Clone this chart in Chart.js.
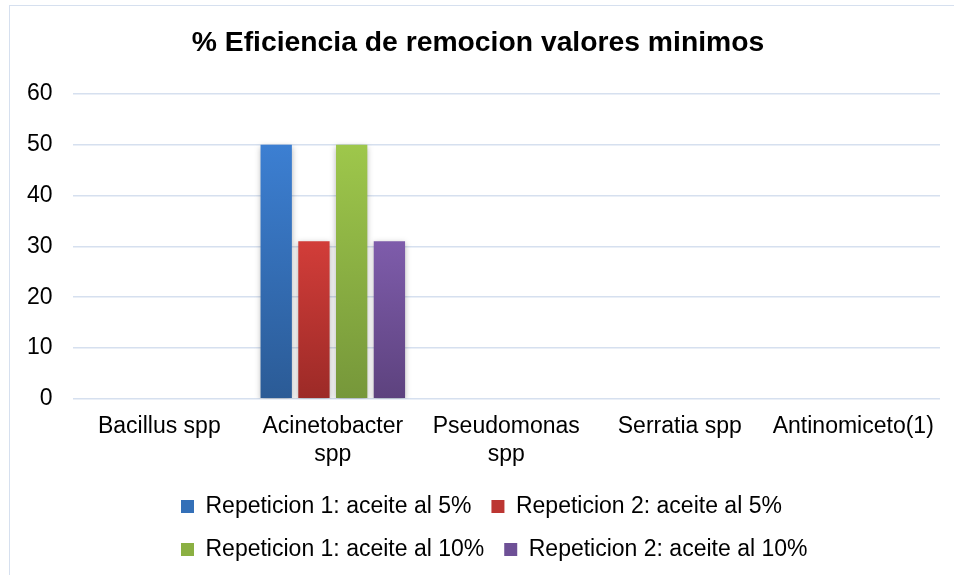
<!DOCTYPE html>
<html>
<head>
<meta charset="utf-8">
<script src="https://cdn.jsdelivr.net/npm/chart.js@4/dist/chart.umd.min.js"></script>
<style>
  html, body { margin: 0; padding: 0; background: #fff; overflow: hidden; }
  #wrap { position: relative; width: 954px; height: 575px; }
  #frame { position: absolute; left: 9px; top: 5px; width: 1000px; height: 700px;
           border-left: 1.5px solid #D6E0EF; border-top: 1.5px solid #D6E0EF; box-sizing: border-box; }
  canvas { position: absolute; left: 0; top: 0; }
</style>
</head>
<body>
<div id="wrap">
  <div id="frame"></div>
  <canvas id="c" width="954" height="575"></canvas>
</div>
<script>
// ---- data ----
const categories = ['Bacillus spp', ['Acinetobacter', 'spp'], ['Pseudomonas', 'spp'], 'Serratia spp', 'Antinomiceto(1)'];
const seriesNames = [
  'Repeticion 1: aceite al 5%',
  'Repeticion 2: aceite al 5%',
  'Repeticion 1: aceite al 10%',
  'Repeticion 2: aceite al 10%'
];
const rep1_5  = [0, 50, 0, 0, 0];
const rep2_5  = [0, 31, 0, 0, 0];
const rep1_10 = [0, 50, 0, 0, 0];
const rep2_10 = [0, 31, 0, 0, 0];
const yTicks = [0, 10, 20, 30, 40, 50, 60];
const chartTitle = '% Eficiencia de remocion valores minimos';

// ---- styles ----
const palette = [
  { top: '#3C7FD2', mid: '#3470B8', bot: '#2B5B96' },
  { top: '#D23D39', mid: '#BC3632', bot: '#9C2A27' },
  { top: '#9EC74B', mid: '#8BB042', bot: '#76973A' },
  { top: '#7E5CAB', mid: '#6E5096', bot: '#5D427E' }
];
const FONT = '"Liberation Sans", Arial, sans-serif';

function barFill(ctx) {
  const c = palette[ctx.datasetIndex];
  if (ctx.type !== 'data') return c.mid;
  const chart = ctx.chart;
  const ys = chart.scales && chart.scales.y;
  if (!ys || !chart.chartArea) return c.mid;
  const v = ctx.parsed ? ctx.parsed.y : ctx.raw;
  const yTop = ys.getPixelForValue(v);
  const yBot = ys.getPixelForValue(0);
  if (!isFinite(yTop) || !isFinite(yBot) || Math.abs(yBot - yTop) < 1) return c.mid;
  const g = chart.ctx.createLinearGradient(0, yTop, 0, yBot);
  g.addColorStop(0, c.top);
  g.addColorStop(1, c.bot);
  return g;
}

const shadowPlugin = {
  id: 'barShadow',
  beforeDatasetsDraw(chart) {
    const ctx = chart.ctx;
    ctx.save();
    ctx.shadowColor = 'rgba(0,0,0,0.3)';
    ctx.shadowBlur = 6;
    ctx.shadowOffsetX = 0;
    ctx.shadowOffsetY = 2;
  },
  afterDatasetsDraw(chart) {
    chart.ctx.restore();
  }
};

const boxPlace = {
  id: 'boxPlace',
  afterLayout(chart) {
    const lg = chart.legend;
    if (lg) {
      const w = lg.right - lg.left;
      lg.left = 161;
      lg.right = lg.left + w;
    }
    const tt = chart.titleBlock;
    if (tt) {
      tt.left += 4.5;
      tt.right += 4.5;
    }
  }
};

const seriesData = [rep1_5, rep2_5, rep1_10, rep2_10];

new Chart(document.getElementById('c'), {
  type: 'bar',
  data: {
    labels: categories,
    datasets: seriesData.map((d, i) => ({
      label: seriesNames[i],
      data: d,
      backgroundColor: barFill,
      borderWidth: 0,
      categoryPercentage: 0.87,
      barPercentage: 0.83
    }))
  },
  options: {
    responsive: false,
    animation: false,
    devicePixelRatio: 1,
    layout: { padding: { left: 7, right: 14, top: 0, bottom: 4 } },
    plugins: {
      title: {
        display: true,
        text: chartTitle,
        color: '#000',
        font: { family: FONT, size: 28.3, weight: 'bold', lineHeight: 1.2 },
        padding: { top: 26, bottom: 34 }
      },
      legend: {
        display: true,
        position: 'bottom',
        align: 'start',
        labels: {
          color: '#000',
          font: { family: FONT, size: 23 },
          boxWidth: 13,
          boxHeight: 13,
          padding: 20
        }
      },
      tooltip: { enabled: false }
    },
    scales: {
      x: {
        grid: { display: false, drawTicks: false },
        border: { display: false },
        ticks: {
          color: '#000',
          font: { family: FONT, size: 23, lineHeight: 1.2 },
          padding: 14,
          maxRotation: 0,
          autoSkip: false
        },
        afterFit(axis) { axis.height -= 7; }
      },
      y: {
        min: yTicks[0],
        max: yTicks[yTicks.length - 1],
        afterBuildTicks(axis) { axis.ticks = yTicks.map(v => ({ value: v })); },
        grid: { color: '#D6E0EF', lineWidth: 1.5, drawTicks: false },
        border: { display: false },
        ticks: {
          color: '#000',
          font: { family: FONT, size: 23 },
          padding: 20
        }
      }
    }
  },
  plugins: [shadowPlugin, boxPlace]
});
</script>
</body>
</html>
